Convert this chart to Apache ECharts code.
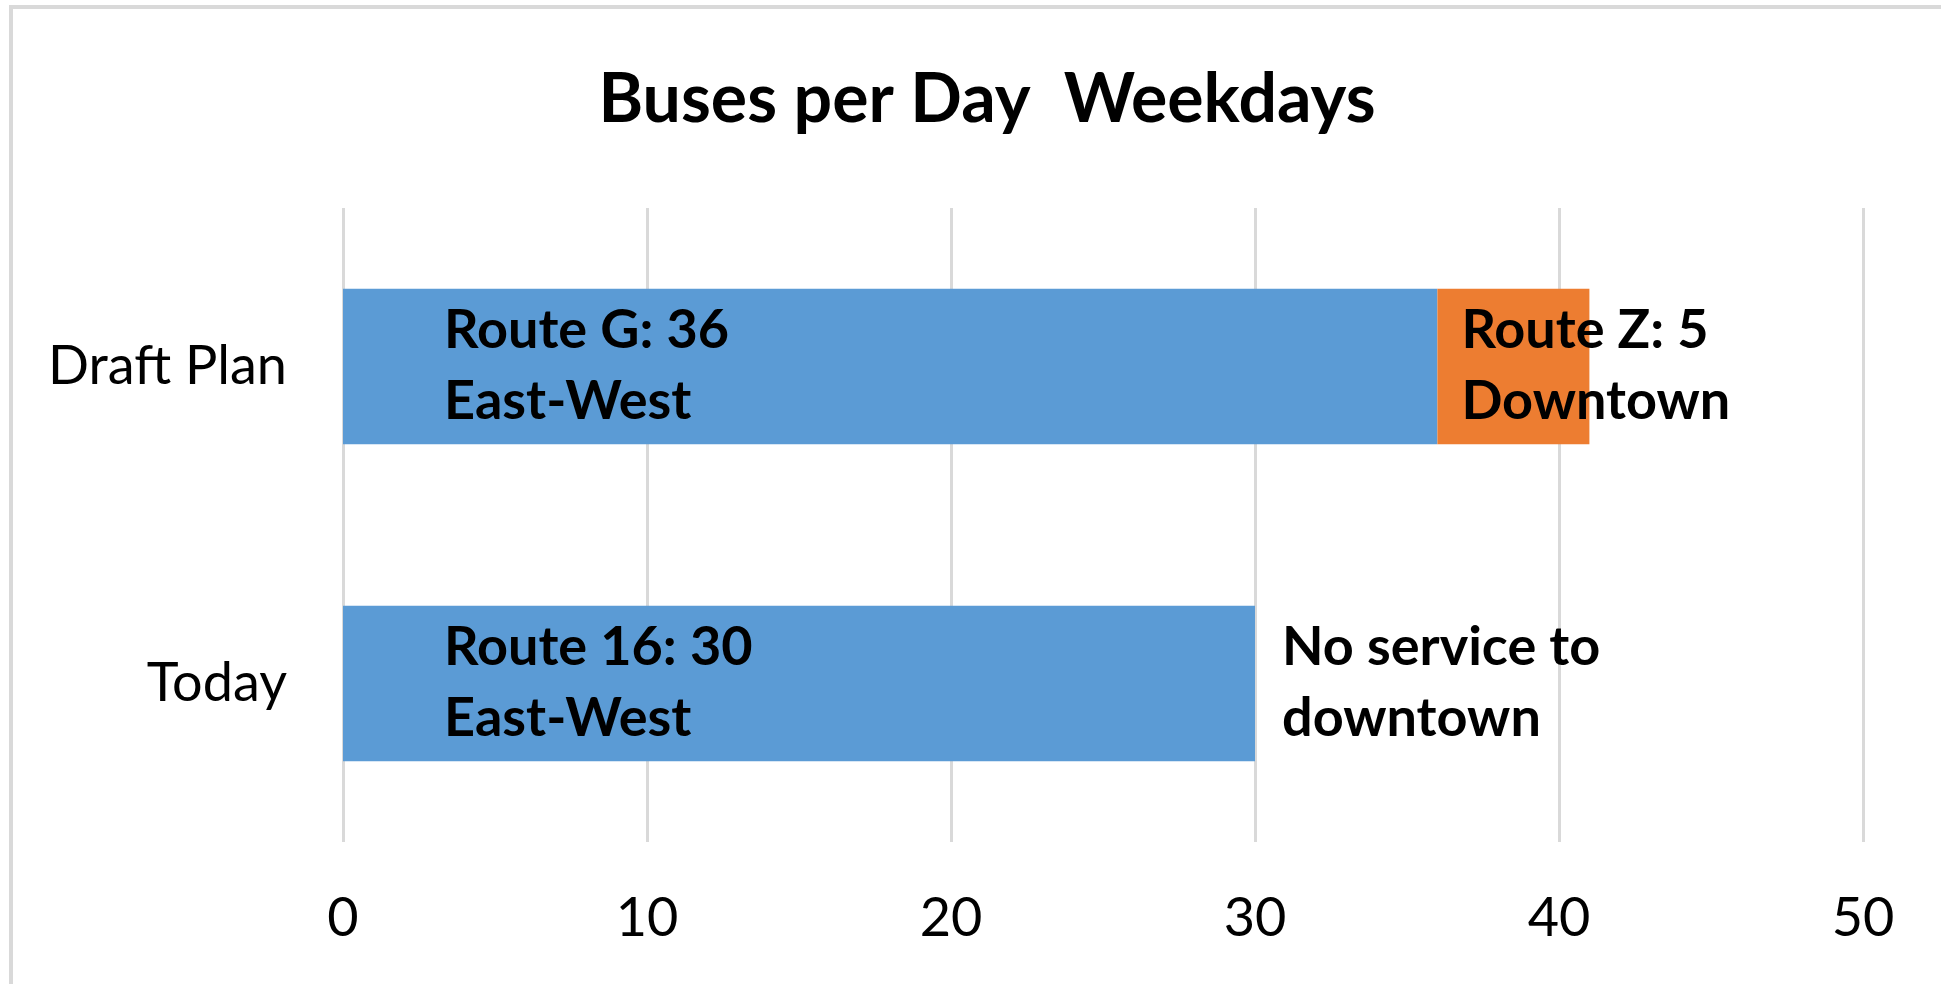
<!DOCTYPE html>
<html>
<head>
<meta charset="utf-8">
<script src="https://cdn.jsdelivr.net/npm/echarts@6/dist/echarts.min.js"></script>
<style>
html,body{margin:0;padding:0;background:#fff;}
#chart{width:1941px;height:984px;}
</style>
</head>
<body>
<div id="chart"></div>
<script>
const categories = ['Today', 'Draft Plan'];
const eastWestValues = [30, 36];
const eastWestLabels = ['Route 16: 30\nEast-West', 'Route G: 36\nEast-West'];
const downtownValues = [0, 5];
const downtownLabels = ['No service to\ndowntown', 'Route Z: 5\nDowntown'];
const xTicks = [0, 10, 20, 30, 40, 50];
const titleText = 'Buses per Day  Weekdays';

const FONT = 'Lato, "Open Sans", sans-serif';
const chart = echarts.init(document.getElementById('chart'), null, {renderer: 'canvas'});

const labelBase = {
  show: true,
  fontFamily: FONT,
  fontWeight: 'bold',
  fontSize: 54,
  lineHeight: 71,
  color: '#000',
  align: 'left',
  verticalAlign: 'middle'
};

chart.setOption({
  animation: false,
  backgroundColor: '#fff',
  title: {
    text: titleText,
    left: 982,
    top: 61,
    textAlign: 'center',
    textStyle: {fontFamily: FONT, fontWeight: 'bold', fontSize: 68, color: '#000'}
  },
  graphic: [
    {type: 'rect', shape: {x: 9, y: 5, width: 1940, height: 4}, style: {fill: '#d9d9d9'}},
    {type: 'rect', shape: {x: 9, y: 5, width: 4, height: 990}, style: {fill: '#d9d9d9'}}
  ],
  grid: {left: 343, right: 78, top: 208, bottom: 142, containLabel: false},
  xAxis: {
    type: 'value',
    min: xTicks[0],
    max: xTicks[xTicks.length - 1],
    interval: xTicks[1] - xTicks[0],
    axisLine: {show: false},
    axisTick: {show: false},
    splitLine: {show: true, lineStyle: {color: '#d9d9d9', width: 3}},
    axisLabel: {fontFamily: FONT, fontSize: 54, color: '#000', margin: 50}
  },
  yAxis: {
    type: 'category',
    data: categories,
    axisLine: {show: false},
    axisTick: {show: false},
    axisLabel: {fontFamily: FONT, fontSize: 54, color: '#000', margin: 56}
  },
  series: [
    {
      name: 'East-West',
      type: 'bar',
      stack: 'buses',
      barWidth: '49%',
      itemStyle: {color: '#5B9BD5'},
      label: Object.assign({}, labelBase, {
        position: [101, '50%'],
        formatter: p => eastWestLabels[p.dataIndex]
      }),
      data: eastWestValues
    },
    {
      name: 'Downtown',
      type: 'bar',
      stack: 'buses',
      barWidth: '49%',
      itemStyle: {color: '#ED7D31'},
      label: Object.assign({}, labelBase, {
        position: [24, '50%'],
        formatter: p => downtownLabels[p.dataIndex]
      }),
      data: downtownValues.map((v, i) => i === 0 ? {value: v, label: {position: [27, '50%']}} : v)
    }
  ]
});
</script>
</body>
</html>
